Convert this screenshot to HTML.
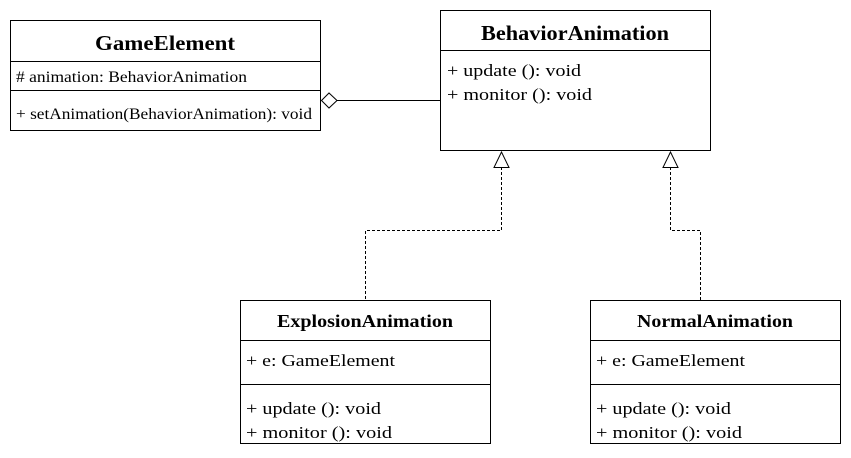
<!DOCTYPE html>
<html><head><meta charset="utf-8"><style>body{margin:0;background:#fff}svg{display:block}text{font-family:"Liberation Serif",serif;fill:#000}</style></head><body>
<svg width="851" height="458" viewBox="0 0 851 458" xmlns="http://www.w3.org/2000/svg">
<g fill="#fff" stroke="#000" stroke-width="1">
<rect x="10.5" y="20.5" width="310" height="110"/>
<line x1="10" y1="61.5" x2="321" y2="61.5"/>
<line x1="10" y1="90.5" x2="321" y2="90.5"/>
<rect x="440.5" y="10.5" width="270" height="140"/>
<line x1="440" y1="50.5" x2="711" y2="50.5"/>
<rect x="240.5" y="300.5" width="250" height="143"/>
<line x1="240" y1="340.5" x2="491" y2="340.5"/>
<line x1="240" y1="384.5" x2="491" y2="384.5"/>
<rect x="590.5" y="300.5" width="250" height="143"/>
<line x1="590" y1="340.5" x2="841" y2="340.5"/>
<line x1="590" y1="384.5" x2="841" y2="384.5"/>
<line x1="337" y1="100.5" x2="440" y2="100.5"/>
<polygon points="321.5,100.5 329,93 337,100.5 329,108"/>
</g>
<g fill="none" stroke="#000" stroke-dasharray="3,2">
<polyline points="501.5,167 501.5,230.5 365.5,230.5 365.5,300"/>
<polyline points="670.5,167 670.5,230.5 700.5,230.5 700.5,300"/>
</g>
<g fill="#fff" stroke="#000">
<polygon points="501.5,152 494,167.5 509,167.5"/>
<polygon points="670.5,152 663,167.5 678,167.5"/>
</g>
<g lengthAdjust="spacingAndGlyphs">
<text x="95" y="50" font-size="21" font-weight="bold" textLength="140" lengthAdjust="spacingAndGlyphs">GameElement</text>
<text x="16" y="82" font-size="16" textLength="231" lengthAdjust="spacingAndGlyphs"># animation: BehaviorAnimation</text>
<text x="16" y="119" font-size="16" textLength="296" lengthAdjust="spacingAndGlyphs">+ setAnimation(BehaviorAnimation): void</text>
<text x="481" y="40" font-size="21" font-weight="bold" textLength="188" lengthAdjust="spacingAndGlyphs">BehaviorAnimation</text>
<text x="447" y="76" font-size="17" textLength="134" lengthAdjust="spacingAndGlyphs">+ update (): void</text>
<text x="447" y="100" font-size="17" textLength="145" lengthAdjust="spacingAndGlyphs">+ monitor (): void</text>
<text x="277" y="327" font-size="18" font-weight="bold" textLength="176" lengthAdjust="spacingAndGlyphs">ExplosionAnimation</text>
<text x="246" y="366" font-size="17" textLength="149" lengthAdjust="spacingAndGlyphs">+ e: GameElement</text>
<text x="246" y="414" font-size="17" textLength="135" lengthAdjust="spacingAndGlyphs">+ update (): void</text>
<text x="246" y="438" font-size="17" textLength="146" lengthAdjust="spacingAndGlyphs">+ monitor (): void</text>
<text x="637" y="327" font-size="18" font-weight="bold" textLength="156" lengthAdjust="spacingAndGlyphs">NormalAnimation</text>
<text x="596" y="366" font-size="17" textLength="149" lengthAdjust="spacingAndGlyphs">+ e: GameElement</text>
<text x="596" y="414" font-size="17" textLength="135" lengthAdjust="spacingAndGlyphs">+ update (): void</text>
<text x="596" y="438" font-size="17" textLength="146" lengthAdjust="spacingAndGlyphs">+ monitor (): void</text>
</g>
</svg>
</body></html>
